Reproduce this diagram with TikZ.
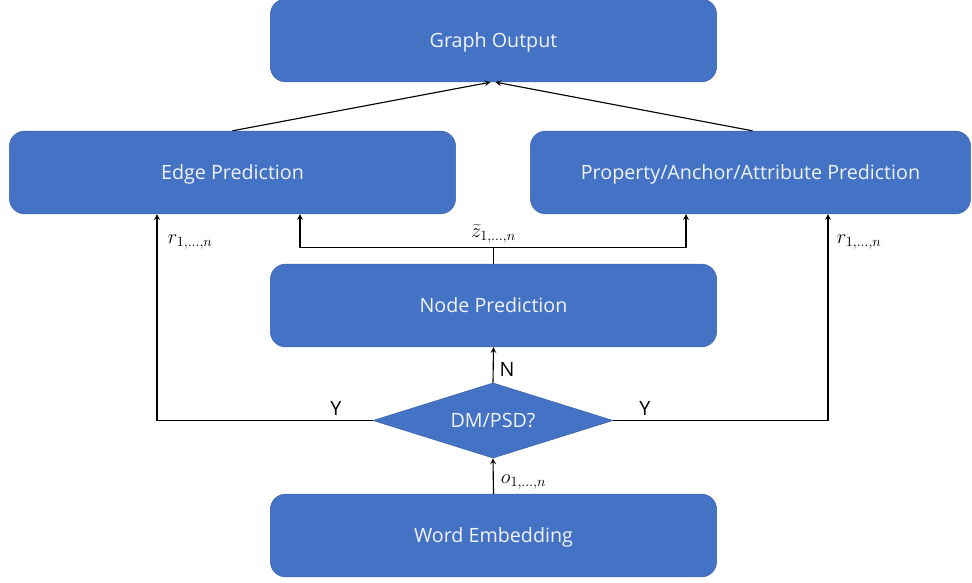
\documentclass[tikz,border=0pt]{standalone}
\usepackage{fontspec}
\setmainfont{Open Sans}
\usepackage{tikz}
\usetikzlibrary{calc,shapes.geometric}

\definecolor{boxblue}{HTML}{4472C4}
\definecolor{boxline}{HTML}{3A62AD}

\begin{document}
\begin{tikzpicture}[x=0.025cm,y=-0.025cm,
  blk/.style={fill=boxblue,draw=boxline,rounded corners=0.38cm,text=white!92!boxblue,font=\fontsize{14}{16}\selectfont,text depth=0pt,minimum height=2.07cm},
  lbl/.style={font=\fontsize{14}{16}\selectfont}]

\useasboundingbox (0,0) rectangle (972,583);

\node[blk,minimum width=11.15cm] (graphout) at (493.5,40.5) {Graph Output};
\node[blk,minimum width=11.15cm] (edgepred) at (232.5,172.5) {Edge Prediction};
\node[blk,minimum width=11.0cm] (proppred) at (750.5,172.5) {Property/Anchor/Attribute Prediction};
\node[blk,minimum width=11.15cm] (nodepred) at (493.5,305.5) {Node Prediction};
\node[diamond,fill=boxblue,draw=boxline,aspect=3.2,inner sep=0pt,minimum width=6cm,minimum height=1.88cm,text=white!92!boxblue,font=\fontsize{14}{16}\selectfont] (dmpsd) at (493,420.5) {DM/PSD?};
\node[blk,minimum width=11.15cm] (wordemb) at (493.5,535.5) {Word Embedding};

% edge and property into output
\draw[-stealth,thick] (edgepred.north) -- ($(graphout.south)+(-3,0)$);
\draw[-stealth,thick] ($(proppred.north)+(2,0)$) -- ($(graphout.south)+(2,0)$);

% node prediction feeds both heads
\coordinate (zsplit) at ($(nodepred.north)+(0,-16)$);
\draw[thick] (nodepred.north) -- (zsplit);
\draw[-stealth,thick] (zsplit) -| ($(edgepred.south)+(67.5,0)$);
\draw[-stealth,thick] (zsplit) -| ($(proppred.south)+(-64.5,0)$);
\node[lbl,anchor=south,inner sep=1pt] at ($(zsplit)+(0,-3)$) {$\widetilde{z}_{1,\dots,n}$};

% decision branches
\draw[-stealth,thick] (dmpsd.west) -| ($(edgepred.south)+(-75.5,0)$);
\draw[-stealth,thick] (dmpsd.east) -| ($(proppred.south)+(77.5,0)$);
\draw[-stealth,thick] (dmpsd.north) -- (nodepred.south);
\draw[-stealth,thick] (wordemb.north) -- (dmpsd.south);

% labels
\node[lbl] at (336,408) {Y};
\node[lbl] at (645,408) {Y};
\node[lbl] at (507,369) {N};
\node[lbl,anchor=west] at (163,242) {$r_{1,\dots,n}$};
\node[lbl,anchor=west] at (832,242) {$r_{1,\dots,n}$};
\node[lbl,anchor=west] at (496,482) {$o_{1,\dots,n}$};

\end{tikzpicture}
\end{document}
